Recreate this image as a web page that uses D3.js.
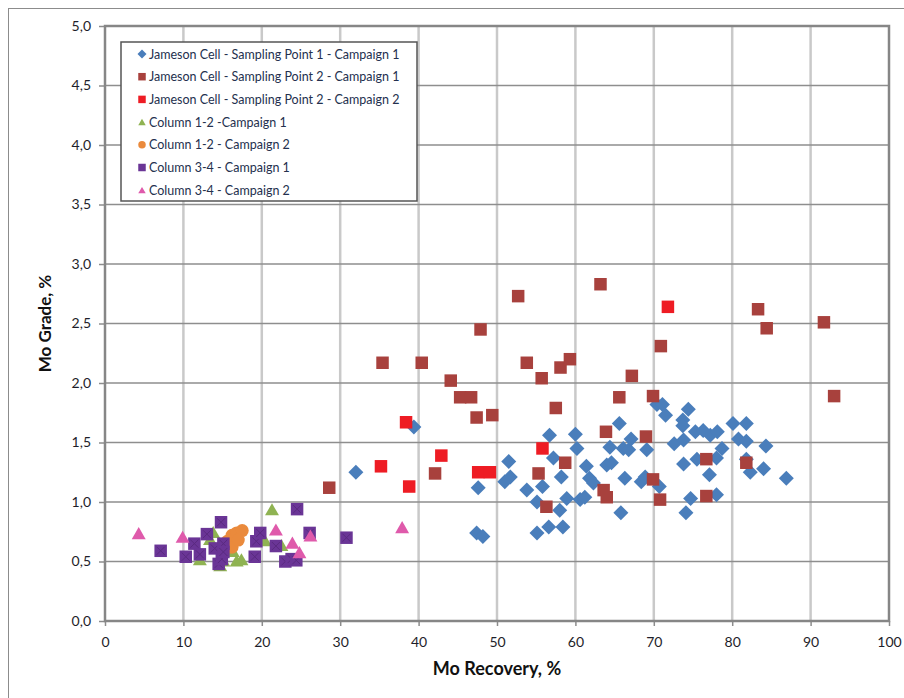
<!DOCTYPE html>
<html>
<head>
<meta charset="utf-8">
<script src="https://cdn.jsdelivr.net/npm/d3@7"></script>
<style>
  body { margin: 0; background: #fff; }
  svg { display: block; font-family: Lato, "Open Sans", sans-serif; }
</style>
</head>
<body>
<div id="chart"></div>
<script>
// [Mo recovery %, Mo grade %]
const jcSp1C1 = [
  [32.0,1.25],[39.4,1.63],[47.6,1.12],[47.4,0.74],[48.2,0.71],[51.5,1.34],[51.7,1.21],[51.0,1.17],
  [53.8,1.10],[55.1,1.00],[55.8,1.13],[55.1,0.74],[56.6,0.79],[56.7,1.56],[57.2,1.37],[58.2,1.21],
  [58.0,0.93],[58.9,1.03],[58.4,0.79],[60.0,1.57],[60.2,1.45],[60.6,1.02],[61.2,1.04],[61.4,1.30],
  [61.8,1.20],[62.3,1.16],[64.0,1.31],[64.6,1.33],[64.4,1.46],[65.6,1.66],[66.1,1.45],[66.8,1.44],
  [67.1,1.53],[66.3,1.20],[65.8,0.91],[69.1,1.44],[68.4,1.17],[68.9,1.21],[70.7,1.13],[70.4,1.82],
  [71.1,1.82],[71.5,1.73],[72.6,1.49],[73.8,1.52],[73.7,1.69],[73.7,1.64],[74.4,1.78],[73.8,1.32],
  [74.7,1.03],[74.1,0.91],[75.3,1.59],[76.3,1.60],[77.2,1.56],[78.1,1.59],[75.5,1.36],[77.1,1.23],
  [78.0,1.37],[78.7,1.45],[78.0,1.06],[80.1,1.66],[81.8,1.66],[80.8,1.53],[81.8,1.51],[81.8,1.36],
  [82.3,1.25],[84.3,1.47],[84.0,1.28],[86.9,1.20]
];
const jcSp2C1 = [
  [28.6,1.12],[35.4,2.17],[40.4,2.17],[42.1,1.24],[44.1,2.02],[45.3,1.88],[46.7,1.88],[47.4,1.71],
  [47.9,2.45],[49.4,1.73],[52.7,2.73],[53.8,2.17],[55.3,1.24],[55.7,2.04],[56.3,0.96],[57.5,1.79],
  [58.1,2.13],[58.7,1.33],[59.3,2.20],[63.2,2.83],[63.6,1.10],[64.0,1.04],[63.9,1.59],[65.6,1.88],
  [67.2,2.06],[69.0,1.55],[69.9,1.89],[69.9,1.19],[70.8,1.02],[70.9,2.31],[76.7,1.36],[76.7,1.05],
  [81.8,1.33],[83.3,2.62],[84.4,2.46],[91.7,2.51],[93.0,1.89]
];
const jcSp2C2 = [
  [35.2,1.30],[38.4,1.67],[38.8,1.13],[42.9,1.39],[47.6,1.25],[49.1,1.25],[55.8,1.45],[71.8,2.64]
];
const col12C1 = [
  [12.1,0.51],[13.4,0.68],[13.8,0.74],[14.7,0.46],[15.1,0.50],[16.3,0.58],[16.8,0.50],[17.4,0.51],
  [20.4,0.67],[21.3,0.93],[22.5,0.63]
];
const col12C2 = [
  [15.6,0.67],[16.2,0.72],[16.8,0.74],[17.5,0.76],[16.2,0.62],[17.0,0.68]
];
const col34C1 = [
  [7.1,0.59],[10.3,0.54],[11.4,0.65],[12.1,0.56],[13.0,0.73],[14.0,0.61],[14.8,0.83],[14.5,0.48],
  [14.9,0.52],[15.1,0.65],[15.1,0.58],[19.1,0.54],[19.3,0.67],[19.8,0.74],[21.8,0.63],[23.0,0.50],
  [23.8,0.52],[24.4,0.51],[24.5,0.94],[26.1,0.74],[30.8,0.70]
];
const col34C2 = [
  [4.3,0.73],[9.9,0.70],[21.8,0.76],[23.9,0.65],[24.8,0.57],[26.2,0.71],[37.9,0.78]
];

const seriesNames = [
  "Jameson Cell - Sampling Point 1 - Campaign 1",
  "Jameson Cell - Sampling Point 2 - Campaign 1",
  "Jameson Cell - Sampling Point 2 - Campaign 2",
  "Column 1-2 -Campaign 1",
  "Column 1-2 - Campaign 2",
  "Column 3-4 - Campaign 1",
  "Column 3-4 - Campaign 2"
];
const xTicks = d3.range(0, 101, 10);
const yTicks = d3.range(0, 5.01, 0.5);

const W = 904, H = 698;
const plot = {left: 105, right: 889, top: 26, bottom: 621};

const series = [
  {data: jcSp1C1, color: "#4a7ebb", shape: "diamond"},
  {data: jcSp2C1, color: "#a8413d", shape: "square"},
  {data: jcSp2C2, color: "#ee1c24", shape: "square"},
  {data: col12C1, color: "#8fb352", shape: "triangle"},
  {data: col12C2, color: "#ea8a3c", shape: "circle"},
  {data: col34C1, color: "#6a3596", shape: "xsquare"},
  {data: col34C2, color: "#df5aab", shape: "triangle"}
];

const x = d3.scaleLinear().domain([0, 100]).range([plot.left, plot.right]);
const y = d3.scaleLinear().domain([0, 5]).range([plot.bottom, plot.top]);
const fmt = d => d3.format(".1f")(d).replace(".", ",");

const svg = d3.select("#chart").append("svg")
  .attr("width", W).attr("height", H);

// outer chart border
svg.append("rect")
  .attr("x", 8.5).attr("y", 8.5).attr("width", W + 10).attr("height", H + 10)
  .attr("fill", "none").attr("stroke", "#8c8c8c").attr("stroke-width", 1);

// vertical gridlines (light)
svg.append("g")
  .selectAll("line").data(xTicks.slice(1, -1)).join("line")
  .attr("x1", d => x(d)).attr("x2", d => x(d))
  .attr("y1", plot.top).attr("y2", plot.bottom)
  .attr("stroke", "#c9c9c9").attr("stroke-width", 2.5);

// horizontal gridlines (darker)
svg.append("g")
  .selectAll("line").data(yTicks.slice(1, -1)).join("line")
  .attr("x1", plot.left).attr("x2", plot.right)
  .attr("y1", d => y(d)).attr("y2", d => y(d))
  .attr("stroke", "#8e8e8e").attr("stroke-width", 1.6);

// axes
const yAxis = svg.append("g")
  .attr("transform", `translate(${plot.left},0)`)
  .call(d3.axisLeft(y).tickValues(yTicks).tickFormat(fmt).tickSize(6).tickPadding(8));
const xAxis = svg.append("g")
  .attr("transform", `translate(0,${plot.bottom})`)
  .call(d3.axisBottom(x).tickValues(xTicks).tickSize(5).tickPadding(11));
[yAxis, xAxis].forEach(a => {
  a.select(".domain").remove();
  a.selectAll(".tick line").attr("stroke", "#8c8c8c").attr("stroke-width", 1.5);
  a.selectAll("text").attr("fill", "#1e1e2a").style("font-size", "14px")
    .style("font-family", "Lato, sans-serif");
});

// plot frame
svg.append("rect")
  .attr("x", plot.left).attr("y", plot.top)
  .attr("width", plot.right - plot.left).attr("height", plot.bottom - plot.top)
  .attr("fill", "none").attr("stroke", "#868686").attr("stroke-width", 2.5);

// marker drawing
function marker(g, shape, color, s) {
  if (shape === "circle") {
    g.append("circle").attr("r", s * 0.5).attr("fill", color);
  } else if (shape === "diamond") {
    g.append("path").attr("d", d3.symbol(d3.symbolSquare, s * s * 0.5)())
      .attr("transform", "rotate(45)").attr("fill", color);
  } else if (shape === "triangle") {
    g.append("path").attr("d", d3.symbol(d3.symbolTriangle, s * s * 0.43)())
      .attr("transform", "translate(0,1)").attr("fill", color);
  } else {
    g.append("path").attr("d", d3.symbol(d3.symbolSquare, s * s)()).attr("fill", color);
    if (shape === "xsquare") {
      const h = s * 0.32;
      g.append("path").attr("d", `M${-h},${-h}L${h},${h}M${-h},${h}L${h},${-h}`)
        .attr("stroke", "#5a2a80").attr("stroke-width", 1);
    }
  }
}
const sizes = {diamond: 15, square: 12.5, triangle: 14, circle: 13, xsquare: 12.5};

series.forEach(sr => {
  svg.append("g").selectAll("g").data(sr.data).join("g")
    .attr("transform", d => `translate(${x(d[0])},${y(d[1])})`)
    .each(function () { marker(d3.select(this), sr.shape, sr.color, sizes[sr.shape]); });
});

// legend
const lg = svg.append("g").attr("transform", "translate(121,42)");
lg.append("rect").attr("width", 296).attr("height", 159)
  .attr("fill", "#fff").attr("stroke", "#555").attr("stroke-width", 1.5);
seriesNames.forEach((name, i) => {
  const row = lg.append("g").attr("transform", `translate(21,${12 + i * 22.7})`);
  const sh = series[i].shape === "xsquare" ? "square" : series[i].shape;
  marker(row, sh, series[i].color, sh === "diamond" ? 9 : 7.5);
  row.append("text").attr("x", 7).attr("y", 4.5)
    .style("font-size", "12.5px").attr("fill", "#24304e").text(name);
});

// axis titles
svg.append("text")
  .attr("transform", `translate(${51},${(plot.top + plot.bottom) / 2}) rotate(-90)`)
  .attr("text-anchor", "middle").style("font-size", "17px").style("font-weight", "bold")
  .attr("fill", "#111").text("Mo Grade, %");
svg.append("text")
  .attr("x", (plot.left + plot.right) / 2).attr("y", 675)
  .attr("text-anchor", "middle").style("font-size", "18px").style("font-weight", "bold")
  .attr("fill", "#111").text("Mo Recovery, %");
</script>
</body>
</html>
